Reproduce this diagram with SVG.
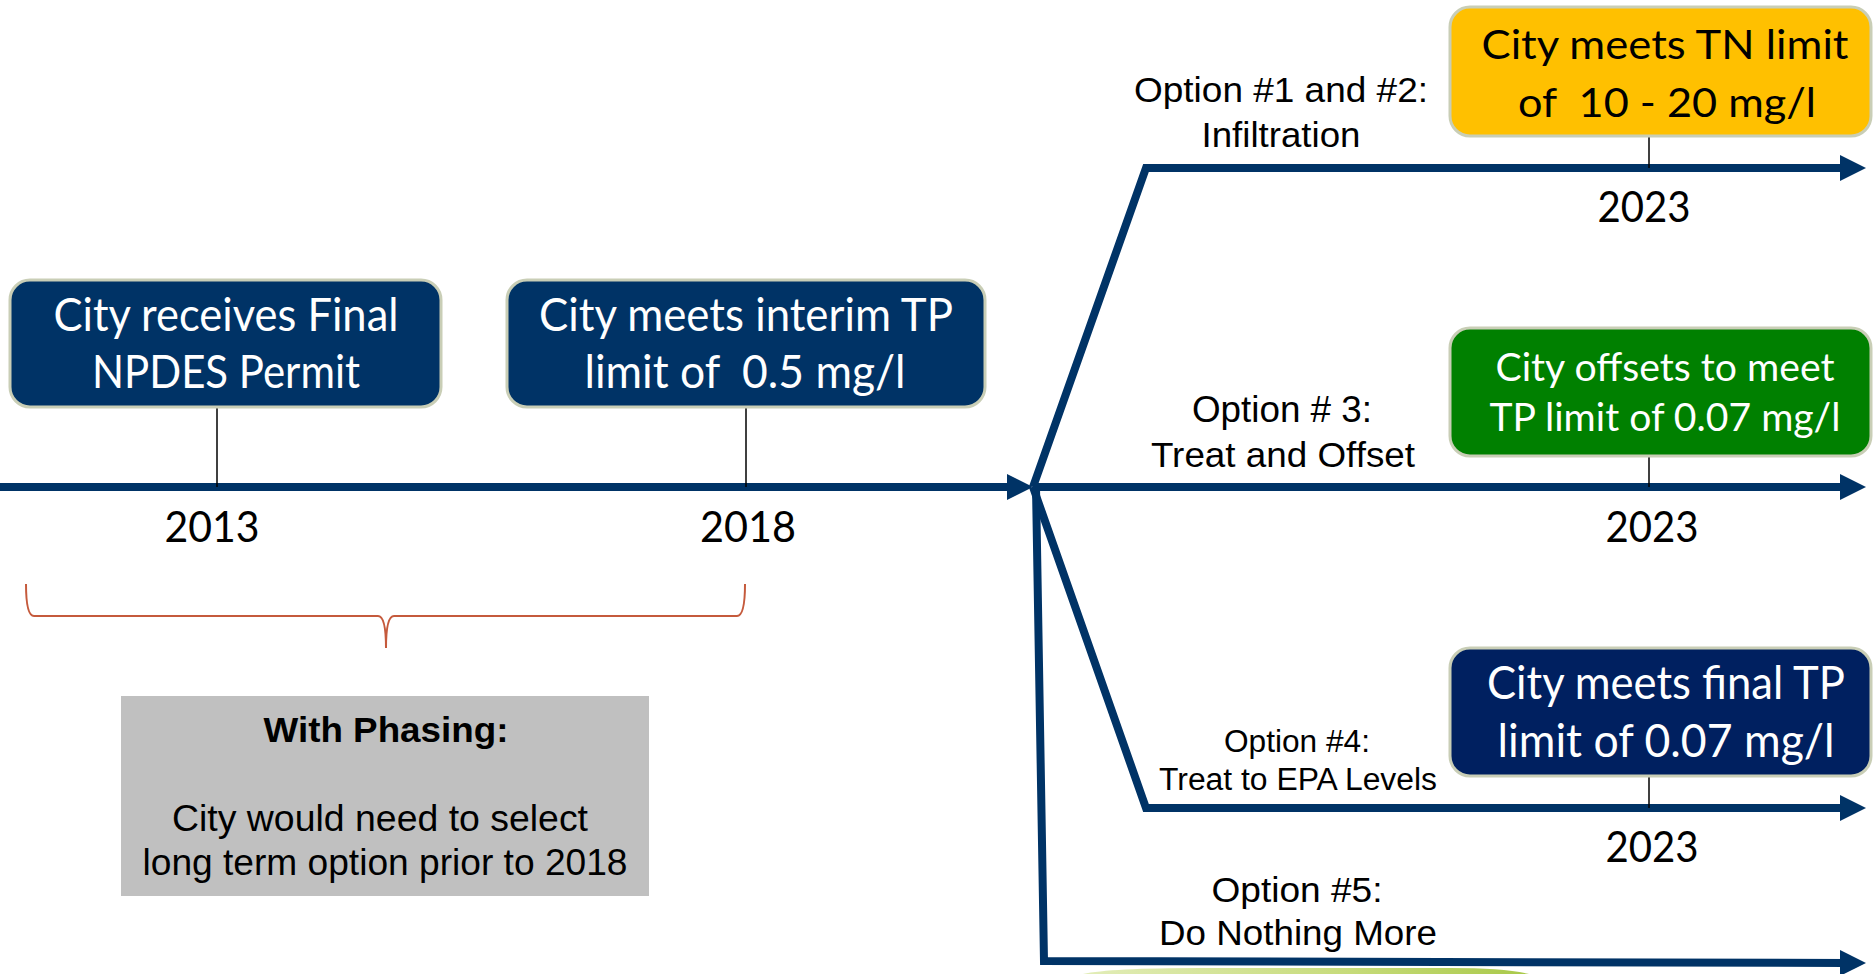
<svg xmlns="http://www.w3.org/2000/svg" width="1873" height="974" viewBox="0 0 1873 974">
<style>
.box{stroke:#c9ceb6;stroke-width:3}
.navy{fill:#003366}
.navy2{fill:#002060}
.cal{font-family:Lato,"Open Sans","Liberation Sans",sans-serif;text-anchor:middle}
.bt{font-size:46px;fill:#ffffff}
.yr{font-size:43px;fill:#000000}
.opt{font-family:"Liberation Sans",Arial,sans-serif;text-anchor:middle;fill:#000000}
.tl{fill:none;stroke:#003366;stroke-width:8;stroke-linejoin:miter}
.tick{stroke:#000000;stroke-width:1.5}
</style>
<defs>
<marker id="ah" markerUnits="userSpaceOnUse" markerWidth="26" markerHeight="26" refX="7" refY="13" orient="auto">
<path d="M0,0 L26,13 L0,26 z" fill="#003366"/>
</marker>
<linearGradient id="gg" x1="0" y1="0" x2="1" y2="0">
<stop offset="0" stop-color="#e2edb8"/>
<stop offset="0.6" stop-color="#c6db7a"/>
<stop offset="1" stop-color="#a9c94a"/>
</linearGradient>
</defs>

<path d="M1083,974 Q1110,968 1200,968 L1450,968 Q1505,968 1529,974 Z" fill="url(#gg)"/>

<g id="connectors">
<path class="tl" d="M0,487 L1014,487" marker-end="url(#ah)"/>
<path class="tl" d="M1033,487 L1146,168 L1847,168" marker-end="url(#ah)"/>
<path class="tl" d="M1033,487 L1847,487" marker-end="url(#ah)"/>
<path class="tl" d="M1033,487 L1146,808 L1847,808" marker-end="url(#ah)"/>
<path class="tl" d="M1036,487 L1044,961 L1847,963" marker-end="url(#ah)"/>
<line class="tick" x1="217" y1="407" x2="217" y2="487"/>
<line class="tick" x1="746" y1="407" x2="746" y2="487"/>
<line class="tick" x1="1649" y1="136" x2="1649" y2="168"/>
<line class="tick" x1="1649" y1="457" x2="1649" y2="487"/>
<line class="tick" x1="1649" y1="777" x2="1649" y2="808"/>
</g>

<g id="permit">
<rect class="box navy" x="10" y="280" width="431" height="127" rx="20"/>
<text class="cal bt" x="226" y="331" textLength="345" lengthAdjust="spacingAndGlyphs">City receives Final</text>
<text class="cal bt" x="226" y="388" textLength="268" lengthAdjust="spacingAndGlyphs">NPDES Permit</text>
</g>

<g id="interim">
<rect class="box navy" x="507" y="280" width="478" height="127" rx="20"/>
<text class="cal bt" x="746" y="331" textLength="414" lengthAdjust="spacingAndGlyphs">City meets interim TP</text>
<text class="cal bt" x="745" y="388" textLength="321" lengthAdjust="spacingAndGlyphs" xml:space="preserve">limit of  0.5 mg/l</text>
</g>

<g id="tn">
<rect class="box" fill="#ffc000" x="1450" y="7" width="421" height="129" rx="20"/>
<text class="cal" font-size="41" fill="#000000" x="1665" y="59" textLength="367" lengthAdjust="spacingAndGlyphs">City meets TN limit</text>
<text class="cal" font-size="41" fill="#000000" x="1667" y="117" textLength="298" lengthAdjust="spacingAndGlyphs" xml:space="preserve">of  10 - 20 mg/l</text>
</g>

<g id="offset">
<rect class="box" fill="#008000" x="1450" y="328" width="421" height="128" rx="20"/>
<text class="cal" font-size="38" fill="#ffffff" x="1665" y="381" textLength="339" lengthAdjust="spacingAndGlyphs">City offsets to meet</text>
<text class="cal" font-size="38" fill="#ffffff" x="1665" y="431" textLength="351" lengthAdjust="spacingAndGlyphs">TP limit of 0.07 mg/l</text>
</g>

<g id="final">
<rect class="box navy2" x="1450" y="648" width="421" height="128" rx="20"/>
<text class="cal bt" x="1666" y="699" textLength="358" lengthAdjust="spacingAndGlyphs">City meets final TP</text>
<text class="cal bt" x="1666" y="757" textLength="337" lengthAdjust="spacingAndGlyphs">limit of 0.07 mg/l</text>
</g>

<g id="years">
<text class="cal yr" x="212" y="542" textLength="95" lengthAdjust="spacingAndGlyphs">2013</text>
<text class="cal yr" x="748" y="542" textLength="96" lengthAdjust="spacingAndGlyphs">2018</text>
<text class="cal yr" x="1644" y="222" textLength="93" lengthAdjust="spacingAndGlyphs">2023</text>
<text class="cal yr" x="1652" y="542" textLength="93" lengthAdjust="spacingAndGlyphs">2023</text>
<text class="cal yr" x="1652" y="862" textLength="93" lengthAdjust="spacingAndGlyphs">2023</text>
</g>

<g id="opt12">
<text class="opt" font-size="35" x="1281" y="102" textLength="294" lengthAdjust="spacingAndGlyphs">Option #1 and #2:</text>
<text class="opt" font-size="35" x="1281" y="147" textLength="159" lengthAdjust="spacingAndGlyphs">Infiltration</text>
</g>
<g id="opt3">
<text class="opt" font-size="36" x="1282" y="422" textLength="180" lengthAdjust="spacingAndGlyphs">Option # 3:</text>
<text class="opt" font-size="35" x="1283" y="467" textLength="264" lengthAdjust="spacingAndGlyphs">Treat and Offset</text>
</g>
<g id="opt4">
<text class="opt" font-size="31" x="1297" y="752" textLength="146" lengthAdjust="spacingAndGlyphs">Option #4:</text>
<text class="opt" font-size="31" x="1298" y="790" textLength="278" lengthAdjust="spacingAndGlyphs">Treat to EPA Levels</text>
</g>
<g id="opt5">
<text class="opt" font-size="35" x="1297" y="902" textLength="171" lengthAdjust="spacingAndGlyphs">Option #5:</text>
<text class="opt" font-size="35" x="1298" y="945" textLength="278" lengthAdjust="spacingAndGlyphs">Do Nothing More</text>
</g>

<g id="brace">
<path d="M26,584 Q26,616 34,616 L378,616 Q386,616 386,648 Q386,616 394,616 L737,616 Q745,616 745,584" fill="none" stroke="#c55a3c" stroke-width="2"/>
</g>

<g id="phasing">
<rect x="121" y="696" width="528" height="200" fill="#c0c0c0"/>
<text class="opt" font-size="35" font-weight="bold" x="386" y="742" textLength="245" lengthAdjust="spacingAndGlyphs">With Phasing:</text>
<text class="opt" font-size="36" x="380" y="831" textLength="416" lengthAdjust="spacingAndGlyphs">City would need to select</text>
<text class="opt" font-size="36" x="385" y="875" textLength="485" lengthAdjust="spacingAndGlyphs">long term option prior to 2018</text>
</g>
</svg>
